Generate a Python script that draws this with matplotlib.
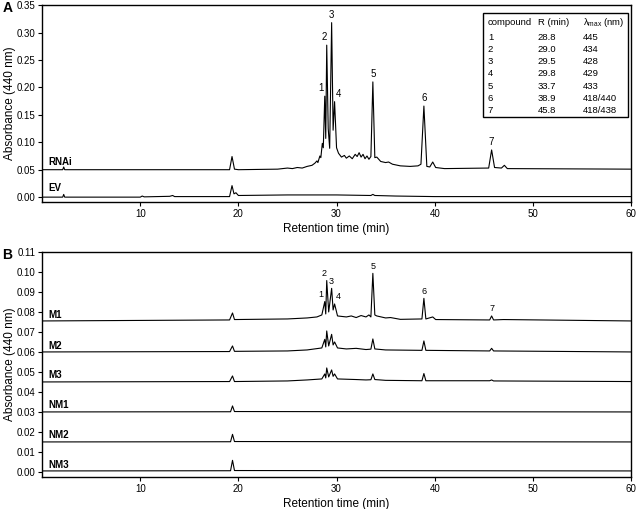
import numpy as np
import matplotlib
matplotlib.use("Agg")
import matplotlib.pyplot as plt

plt.rcParams["font.family"] = ["Liberation Sans", "DejaVu Sans"]
plt.rcParams["mathtext.fontset"] = "custom"
plt.rcParams["mathtext.rm"] = "Liberation Sans"
plt.rcParams["mathtext.it"] = "Liberation Sans"

# compound table (panel A inset)
compounds = ["1", "2", "3", "4", "5", "6", "7"]
rt_min = [28.8, 29.0, 29.5, 29.8, 33.7, 38.9, 45.8]
lambda_max = ["445", "434", "428", "429", "433", "418/440", "418/438"]

# panel A traces
rnai_t = [0.0, 2.1, 2.2, 2.3, 10.0, 19.1, 19.35, 19.6, 20.0, 24.0, 25.0, 25.5, 26.0,
          26.5, 27.0, 27.5, 27.8, 28.0, 28.1, 28.3, 28.4, 28.55, 28.65, 28.8, 28.9,
          29.0, 29.15, 29.3, 29.5, 29.65, 29.8, 30.0, 30.2, 30.5, 30.8, 31.0, 31.3,
          31.6, 31.9, 32.1, 32.3, 32.5, 32.7, 32.9, 33.1, 33.3, 33.5, 33.7, 33.9,
          34.1, 34.5, 35.0, 35.3, 35.7, 36.5, 37.5, 38.3, 38.6, 38.9, 39.2, 39.5,
          39.8, 40.1, 41.0, 45.5, 45.8, 46.1, 46.8, 47.1, 47.4, 60.0]
rnai_a = [0.050, 0.050, 0.055, 0.050, 0.050, 0.050, 0.074, 0.051, 0.050, 0.051, 0.053,
          0.052, 0.054, 0.053, 0.056, 0.058, 0.062, 0.066, 0.063, 0.075, 0.072, 0.098,
          0.090, 0.184, 0.107, 0.277, 0.125, 0.089, 0.318, 0.122, 0.174, 0.090, 0.080,
          0.073, 0.076, 0.071, 0.075, 0.070, 0.078, 0.074, 0.081, 0.073, 0.078, 0.070,
          0.075, 0.069, 0.074, 0.210, 0.072, 0.073, 0.065, 0.063, 0.064, 0.060, 0.057,
          0.056, 0.057, 0.060, 0.166, 0.056, 0.055, 0.064, 0.054, 0.052, 0.053, 0.086,
          0.054, 0.053, 0.058, 0.052, 0.051]

ev_t = [0.0, 2.1, 2.2, 2.3, 10.0, 10.2, 10.4, 13.0, 13.3, 13.5, 19.1, 19.35, 19.55,
        19.75, 20.0, 25.0, 30.0, 33.5, 33.7, 33.9, 36.0, 40.0, 60.0]
ev_a = [0.000, 0.000, 0.005, 0.000, 0.000, 0.002, 0.0005, 0.0015, 0.003, 0.001, 0.001,
        0.021, 0.006, 0.008, 0.003, 0.004, 0.004, 0.003, 0.005, 0.003, 0.002, 0.001,
        0.001]

# panel B traces
m1_t = [0.0, 19.1, 19.4, 19.6, 25.0, 27.0, 28.0, 28.5, 28.8, 28.9, 29.0, 29.2, 29.5,
        29.65, 29.8, 30.1, 31.0, 31.5, 32.0, 32.5, 33.0, 33.3, 33.5, 33.7, 33.9, 34.1,
        35.0, 35.5, 36.5, 38.7, 38.9, 39.1, 39.8, 40.1, 45.6, 45.8, 46.0, 47.0, 60.0]
m1_a = [0.0755, 0.0760, 0.0795, 0.0762, 0.0765, 0.0770, 0.0775, 0.0785, 0.0852, 0.0790,
        0.0957, 0.0800, 0.0918, 0.0810, 0.0840, 0.0780, 0.0775, 0.0780, 0.0772, 0.0782,
        0.0775, 0.0785, 0.0775, 0.0993, 0.0785, 0.0780, 0.0770, 0.0772, 0.0763, 0.0765,
        0.0868, 0.0765, 0.0775, 0.0762, 0.0760, 0.0780, 0.0760, 0.0762, 0.0755]

m2_t = [0.0, 19.1, 19.4, 19.6, 25.0, 27.0, 28.5, 28.8, 28.9, 29.0, 29.2, 29.5, 29.65,
        29.8, 30.1, 31.0, 32.0, 33.0, 33.5, 33.7, 33.9, 35.0, 38.7, 38.9, 39.1, 45.6,
        45.8, 46.0, 60.0]
m2_a = [0.0600, 0.0602, 0.0630, 0.0603, 0.0605, 0.0610, 0.0620, 0.0663, 0.0625, 0.0705,
        0.0630, 0.0688, 0.0635, 0.0650, 0.0620, 0.0615, 0.0618, 0.0612, 0.0614, 0.0665,
        0.0615, 0.0610, 0.0608, 0.0655, 0.0608, 0.0605, 0.0618, 0.0605, 0.0600]

m3_t = [0.0, 19.1, 19.4, 19.6, 25.0, 27.0, 28.5, 28.8, 28.9, 29.0, 29.2, 29.5, 29.65,
        29.8, 30.1, 32.0, 33.0, 33.5, 33.7, 33.9, 35.0, 38.7, 38.9, 39.1, 45.6, 45.8,
        46.0, 60.0]
m3_a = [0.0450, 0.0452, 0.0480, 0.0452, 0.0455, 0.0460, 0.0465, 0.0490, 0.0470, 0.0520,
        0.0475, 0.0510, 0.0478, 0.0490, 0.0465, 0.0462, 0.0460, 0.0461, 0.0490, 0.0462,
        0.0458, 0.0456, 0.0492, 0.0456, 0.0456, 0.0460, 0.0455, 0.0452]

nm_t = [0.0, 19.2, 19.4, 19.6, 60.0]
nm1_a = [0.0300, 0.0301, 0.0330, 0.0302, 0.0300]
nm2_a = [0.0150, 0.0151, 0.0188, 0.0152, 0.0150]
nm3_a = [0.0005, 0.0006, 0.0058, 0.0007, 0.0005]

traces_a = [("RNAi", rnai_t, rnai_a, 0.064), ("EV", ev_t, ev_a, 0.016)]
traces_b = [("M1", m1_t, m1_a, 0.0783), ("M2", m2_t, m2_a, 0.0632),
            ("M3", m3_t, m3_a, 0.0485), ("NM1", nm_t, nm1_a, 0.0335),
            ("NM2", nm_t, nm2_a, 0.0185), ("NM3", nm_t, nm3_a, 0.0035)]

fig = plt.figure(figsize=(6.38, 5.09), dpi=100)
ax1 = fig.add_axes([0.066, 0.603, 0.923, 0.387])
ax2 = fig.add_axes([0.066, 0.063, 0.923, 0.442])

lw = 0.8
for name, t, a, ly in traces_a:
    ax1.plot(t, a, color="black", lw=lw)
    ax1.text(0.6, ly, name, fontsize=7, fontweight="bold", va="center")
for name, t, a, ly in traces_b:
    ax2.plot(t, a, color="black", lw=lw)
    ax2.text(0.6, ly, name, fontsize=7, fontweight="bold", va="center")

# peak numbers
dx_a = [-3, -2, 0, 3, 0, 0, 0]
for c, rt, dx in zip(compounds, rt_min, dx_a):
    h = np.interp(rt, rnai_t, rnai_a)
    ax1.annotate(c, (rt, h), xytext=(dx, 2), textcoords="offset points",
                 ha="center", va="bottom", fontsize=7)
    h2 = np.interp(rt, m1_t, m1_a)
    ax2.annotate(c, (rt, h2), xytext=(dx, 2), textcoords="offset points",
                 ha="center", va="bottom", fontsize=6.5)

ax1.set_xlim(0, 60)
ax1.set_ylim(-0.009, 0.35)
ax1.set_yticks(np.arange(0, 0.351, 0.05))
ax2.set_xlim(0, 60)
ax2.set_ylim(-0.0025, 0.11)
ax2.set_yticks(np.arange(0, 0.111, 0.01))

for ax in (ax1, ax2):
    ax.set_xticks([10, 20, 30, 40, 50, 60])
    ax.yaxis.set_major_formatter(matplotlib.ticker.FormatStrFormatter("%.2f"))
    ax.tick_params(labelsize=7, length=3, width=0.8, direction="out", pad=2)
    for s in ax.spines.values():
        s.set_linewidth(1.0)
    ax.set_xlabel("Retention time (min)", fontsize=8.5, labelpad=3)
    ax.set_ylabel("Absorbance (440 nm)", fontsize=8.5)
    ax.yaxis.set_label_coords(-0.045, 0.5)

# inset table
ax1.add_patch(plt.Rectangle((0.749, 0.431), 0.246, 0.528, transform=ax1.transAxes,
                            fill=False, lw=1.0, color="black"))
col_x = [0.757, 0.842, 0.918]
row_y0 = 0.910
row_dy = 0.0615
tfs = 6.8
ax1.text(col_x[0], row_y0, "compound", transform=ax1.transAxes, fontsize=tfs, va="center")
ax1.text(col_x[1], row_y0, "R (min)", transform=ax1.transAxes, fontsize=tfs, va="center")
ax1.text(col_x[2], row_y0, r"$\mathregular{\lambda_{max}}$ (nm)", transform=ax1.transAxes,
         fontsize=tfs, va="center")
for i, (c, rt, lm) in enumerate(zip(compounds, rt_min, lambda_max)):
    y = row_y0 - 0.075 - i * row_dy
    ax1.text(col_x[0], y, c, transform=ax1.transAxes, fontsize=tfs, va="center")
    ax1.text(col_x[1], y, f"{rt:.1f}", transform=ax1.transAxes, fontsize=tfs, va="center")
    ax1.text(col_x[2], y, lm, transform=ax1.transAxes, fontsize=tfs, va="center")

fig.text(0.004, 0.984, "A", fontsize=10, fontweight="bold", va="center")
fig.text(0.004, 0.499, "B", fontsize=10, fontweight="bold", va="center")

fig.savefig("out.png", dpi=100)
